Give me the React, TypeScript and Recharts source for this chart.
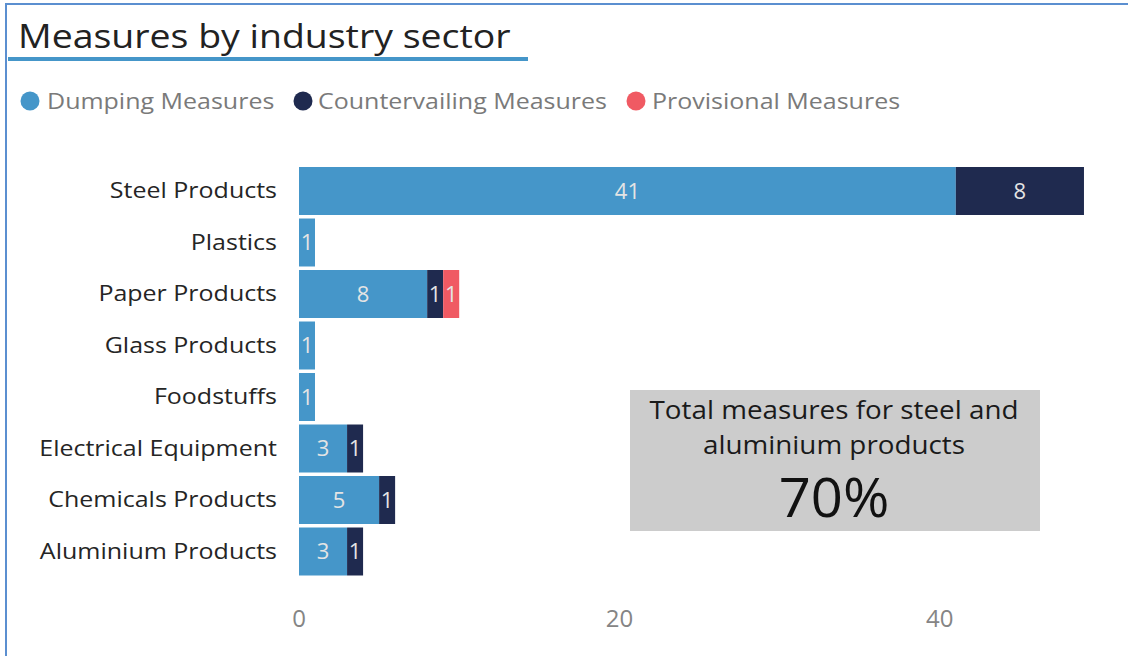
import React from "react";
import { BarChart, Bar, XAxis, YAxis, Legend, LabelList } from "recharts";

const categories = [
  "Steel Products",
  "Plastics",
  "Paper Products",
  "Glass Products",
  "Foodstuffs",
  "Electrical Equipment",
  "Chemicals Products",
  "Aluminium Products",
];
const dumping = [41, 1, 8, 1, 1, 3, 5, 3];
const countervailing = [8, null, 1, null, null, 1, 1, 1];
const provisional = [null, null, 1, null, null, null, null, null];
const xTicks = [0, 20, 40];

const seriesNames = ["Dumping Measures", "Countervailing Measures", "Provisional Measures"];
const colors = ["#4596c9", "#1f2a4f", "#f05a63"];

const data = categories.map((c, i) => ({
  name: c,
  dumping: dumping[i],
  countervailing: countervailing[i],
  provisional: provisional[i],
}));

const FONT = "'Open Sans', 'Noto Sans', sans-serif";
const SX = 1.19;

const fmt = (v: any) => (v === null || v === undefined || v === 0 ? "" : String(v));

const WText = (props: any) => {
  const { x, y, sx = SX, children, ...rest } = props;
  return (
    <text transform={`translate(${x},${y}) scale(${sx},1)`} x={0} y={0} fontFamily={FONT} {...rest}>
      {children}
    </text>
  );
};

const YTick = (props: any) => {
  const { y, payload } = props;
  return (
    <WText x={277} y={y + 7.5} textAnchor="end" fontSize={21} fill="#252525">
      {payload.value}
    </WText>
  );
};

const XTick = (props: any) => {
  const { x, y, payload } = props;
  return (
    <text x={x} y={y + 50} textAnchor="middle" fontFamily={FONT} fontSize={24} fill="#858585">
      {payload.value}
    </text>
  );
};

const LegendContent = () => {
  const items = [
    { cx: 30, tx: 47, name: seriesNames[0], color: colors[0] },
    { cx: 303, tx: 318, name: seriesNames[1], color: colors[1] },
    { cx: 636, tx: 652, name: seriesNames[2], color: colors[2] },
  ];
  return (
    <svg width={1000} height={40} style={{ display: "block" }}>
      {items.map((it) => (
        <g key={it.name}>
          <circle cx={it.cx} cy={20} r={9.5} fill={it.color} />
          <WText x={it.tx} y={28} fontSize={21} fill="#7a7a7a">
            {it.name}
          </WText>
        </g>
      ))}
    </svg>
  );
};

const labelProps = { position: "center" as const, formatter: fmt, fill: "#e4e4e4", fontSize: 22, fontFamily: FONT };

export default function App() {
  return (
    <div style={{ position: "absolute", left: 0, top: 0, width: 1128, height: 656, background: "#fff", overflow: "hidden" }}>
      <BarChart
        width={1128}
        height={656}
        data={data}
        layout="vertical"
        margin={{ top: 165, right: 28, bottom: 0, left: 0 }}
        barSize={48}
      >
        <XAxis
          type="number"
          domain={[0, 50]}
          ticks={xTicks}
          axisLine={false}
          tickLine={false}
          tickSize={0}
          tickMargin={0}
          height={79}
          tick={<XTick />}
        />
        <YAxis
          type="category"
          dataKey="name"
          width={299}
          axisLine={false}
          tickLine={false}
          tickSize={0}
          tickMargin={0}
          tick={<YTick />}
          interval={0}
        />
        <Legend
          layout="horizontal"
          verticalAlign="middle"
          align="center"
          content={<LegendContent />}
          wrapperStyle={{ left: 0, top: 81, width: 1000, height: 40 }}
        />
        <Bar dataKey="dumping" stackId="a" fill={colors[0]} name={seriesNames[0]} isAnimationActive={false}>
          <LabelList dataKey="dumping" {...labelProps} />
        </Bar>
        <Bar dataKey="countervailing" stackId="a" fill={colors[1]} name={seriesNames[1]} isAnimationActive={false}>
          <LabelList dataKey="countervailing" {...labelProps} />
        </Bar>
        <Bar dataKey="provisional" stackId="a" fill={colors[2]} name={seriesNames[2]} isAnimationActive={false}>
          <LabelList dataKey="provisional" {...labelProps} />
        </Bar>
      </BarChart>
      <svg width={1128} height={656} style={{ position: "absolute", left: 0, top: 0, pointerEvents: "none" }}>
        <rect x={5} y={3} width={1123} height={2} fill="#5b8fd0" />
        <rect x={5} y={3} width={2} height={653} fill="#5b8fd0" />
        <WText x={18} y={48} sx={1.17} fontSize={32} fill="#222">
          Measures by industry sector
        </WText>
        <rect x={8} y={57} width={520} height={4} fill="#4596c9" />
        <rect x={630} y={390} width={410} height={141} fill="#cccccc" />
        <WText x={834} y={419} sx={1.07} textAnchor="middle" fontSize={26} fill="#1a1a1a">
          Total measures for steel and
        </WText>
        <WText x={834} y={454} sx={1.07} textAnchor="middle" fontSize={26} fill="#1a1a1a">
          aluminium products
        </WText>
        <WText x={834} y={517} sx={1.04} textAnchor="middle" fontSize={54} fontWeight={500} fill="#111">
          70%
        </WText>
      </svg>
    </div>
  );
}
